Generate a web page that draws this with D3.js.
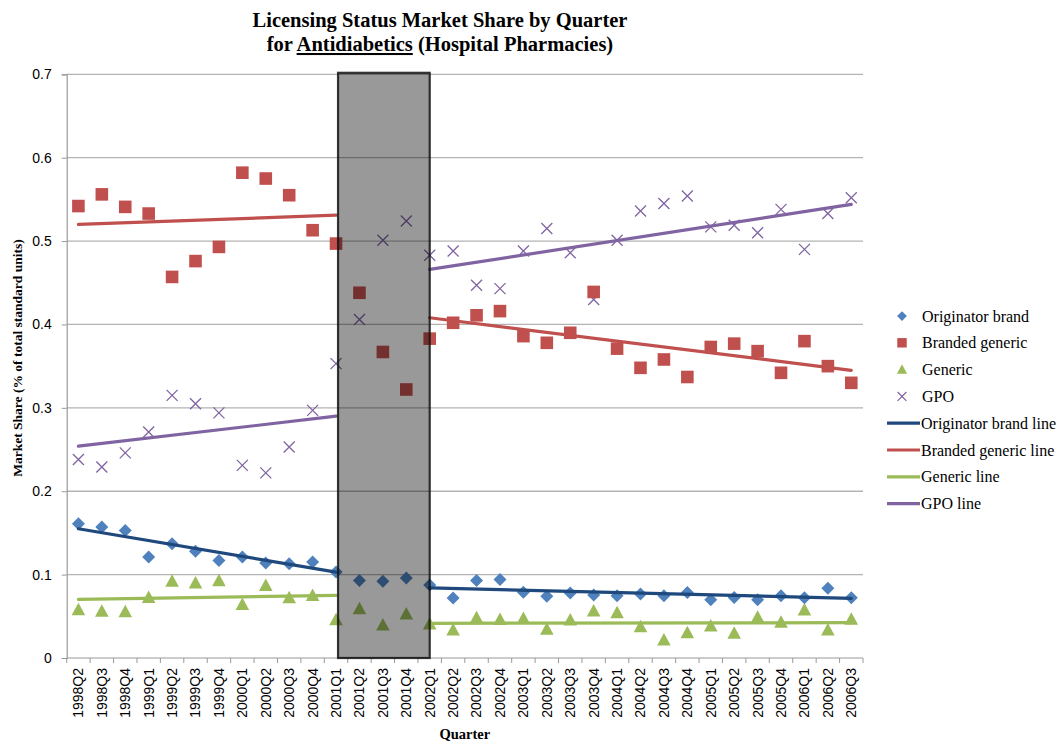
<!DOCTYPE html>
<html><head><meta charset="utf-8">
<script src="https://cdn.jsdelivr.net/npm/d3@7"></script>
<style>body{margin:0;background:#fff}svg{display:block}</style>
</head><body>
<svg id="c" width="1057" height="744"></svg>
<script>
const quarters = ["1998Q2","1998Q3","1998Q4","1999Q1","1999Q2","1999Q3","1999Q4","2000Q1","2000Q2","2000Q3","2000Q4","2001Q1","2001Q2","2001Q3","2001Q4","2002Q1","2002Q2","2002Q3","2002Q4","2003Q1","2003Q2","2003Q3","2003Q4","2004Q1","2004Q2","2004Q3","2004Q4","2005Q1","2005Q2","2005Q3","2005Q4","2006Q1","2006Q2","2006Q3"];
const originator = [0.161,0.157,0.153,0.121,0.137,0.128,0.117,0.121,0.114,0.113,0.115,0.103,0.093,0.092,0.096,0.0875,0.072,0.093,0.094,0.079,0.074,0.078,0.0755,0.0747,0.0767,0.0747,0.0787,0.070,0.0727,0.070,0.0747,0.0723,0.0835,0.0723];
const brandedGeneric = [0.542,0.556,0.541,0.533,0.457,0.476,0.493,0.582,0.575,0.555,0.513,0.497,0.438,0.367,0.322,0.383,0.402,0.411,0.416,0.386,0.378,0.390,0.439,0.371,0.348,0.358,0.337,0.373,0.377,0.368,0.342,0.380,0.350,0.330];
const generic = [0.058,0.056,0.0555,0.0727,0.092,0.090,0.0927,0.0643,0.087,0.0723,0.075,0.046,0.059,0.0396,0.0527,0.0408,0.0336,0.0483,0.0463,0.0475,0.0344,0.0455,0.0563,0.0543,0.0375,0.0216,0.0303,0.0384,0.0296,0.0488,0.0428,0.0575,0.0336,0.0464];
const gpo = [0.238,0.229,0.246,0.271,0.315,0.305,0.294,0.231,0.222,0.253,0.297,0.353,0.406,0.501,0.524,0.483,0.488,0.447,0.443,0.488,0.515,0.486,0.430,0.501,0.536,0.545,0.554,0.517,0.519,0.510,0.538,0.490,0.533,0.552];
// trend line segments: [startQuarter, endQuarter, startValue, endValue]
const originatorLine = [["1998Q2","2001Q1",0.155,0.103],["2002Q1","2006Q3",0.084,0.0716]];
const brandedGenericLine = [["1998Q2","2001Q1",0.520,0.531],["2002Q1","2006Q3",0.408,0.345]];
const genericLine = [["1998Q2","2001Q1",0.0703,0.075],["2002Q1","2006Q3",0.0416,0.0424]];
const gpoLine = [["1998Q2","2001Q1",0.254,0.290],["2002Q1","2006Q3",0.466,0.544]];
const shadedPeriod = ["2001Q1","2002Q1"];
const yTicks = [0,0.1,0.2,0.3,0.4,0.5,0.6,0.7];

const svg = d3.select("#c");
const L = 66.7, R = 863, T = 74.3, B = 658;
const x = d3.scaleBand().domain(quarters).range([L, R]).paddingInner(0).paddingOuter(0);
const cx = q => x(q) + x.bandwidth()/2;
const y = d3.scaleLinear().domain([0,0.7]).range([B, T]);

// gridlines
svg.append("g").selectAll("line").data(yTicks.filter(d=>d>0)).join("line")
  .attr("x1", L).attr("x2", R).attr("y1", d=>y(d)).attr("y2", d=>y(d))
  .attr("stroke", "#b3b3b3").attr("stroke-width", 1.3);

// y axis
const yAxis = d3.axisLeft(y).tickValues(yTicks).tickSize(5).tickFormat(d => d===0 ? "0" : d3.format(".1f")(d));
const gy = svg.append("g").attr("transform", `translate(${L},0)`).call(yAxis);
gy.select(".domain").attr("stroke", "#999").attr("stroke-width", 1.2);
gy.selectAll(".tick line").attr("stroke", "#999");
gy.selectAll("text").attr("font-family", "Liberation Sans, Arial, sans-serif").attr("font-size", 14).attr("fill", "#000").attr("dx", -7);

// x axis
const gx = svg.append("g").attr("transform", `translate(0,${B})`);
gx.append("line").attr("x1", L).attr("x2", R).attr("y1", 0).attr("y2", 0).attr("stroke", "#999").attr("stroke-width", 1.2);
const bounds = quarters.map(q => x(q)).concat([R]);
gx.selectAll("line.tk").data(bounds).join("line").attr("class","tk")
  .attr("x1", d=>d).attr("x2", d=>d).attr("y1", 0).attr("y2", 5).attr("stroke", "#999");
gx.selectAll("text").data(quarters).join("text")
  .attr("transform", d => `translate(${cx(d)},10) rotate(-90)`)
  .attr("text-anchor", "end").attr("dy", "0.35em")
  .attr("font-family", "Liberation Sans, Arial, sans-serif").attr("font-size", 14).attr("fill", "#000")
  .text(d => d);

// markers
const sz = 6.5;
const shapes = {
  diamond: `M0,${-sz}L${sz},0L0,${sz}L${-sz},0Z`,
  square: `M${-6.3},${-6.3}H6.3V6.3H-6.3Z`,
  triangle: `M0,-7L6.8,5.5H-6.8Z`,
  cross: `M-5.5,-5.5L5.5,5.5M5.5,-5.5L-5.5,5.5`
};
function drawPoints(data, shape, fill, stroke) {
  svg.append("g").selectAll("path").data(data).join("path")
    .attr("transform", (d,i) => `translate(${cx(quarters[i])},${y(d)})`)
    .attr("d", shapes[shape])
    .attr("fill", fill).attr("stroke", stroke).attr("stroke-width", stroke==="none"?0:1.3);
}
drawPoints(gpo, "cross", "none", "#8064a2");
drawPoints(brandedGeneric, "square", "#c0504d", "none");
drawPoints(generic, "triangle", "#9bbb59", "none");
drawPoints(originator, "diamond", "#4f81bd", "none");

// trend lines
function drawLine(segs, color) {
  svg.append("g").selectAll("line").data(segs).join("line")
    .attr("x1", d=>cx(d[0])).attr("x2", d=>cx(d[1]))
    .attr("y1", d=>y(d[2])).attr("y2", d=>y(d[3]))
    .attr("stroke", color).attr("stroke-width", 3.2).attr("stroke-linecap","round");
}
drawLine(originatorLine, "#1f497d");
drawLine(brandedGenericLine, "#c0504d");
drawLine(genericLine, "#9bbb59");
drawLine(gpoLine, "#8064a2");

// shaded period
svg.append("rect")
  .attr("x", cx(shadedPeriod[0])+2).attr("width", cx(shadedPeriod[1]) - cx(shadedPeriod[0]) - 2)
  .attr("y", y(0.7)-1.5).attr("height", y(0) - y(0.7) + 1.5)
  .attr("fill", "rgba(0,0,0,0.4)").attr("stroke", "rgba(20,20,20,0.85)").attr("stroke-width", 2.2);

// title
const serif = "Liberation Serif, Times New Roman, serif";
const title = svg.append("text").attr("x", 440).attr("text-anchor", "middle")
  .attr("font-family", serif).attr("font-weight", "bold").attr("font-size", 20.5);
title.append("tspan").attr("x", 440).attr("y", 27).text("Licensing Status Market Share by Quarter");
const t2 = title.append("tspan").attr("x", 440).attr("y", 51);
t2.append("tspan").text("for ");
t2.append("tspan").attr("text-decoration", "underline").text("Antidiabetics");
t2.append("tspan").text(" (Hospital Pharmacies)");

// axis titles
svg.append("text").attr("transform", `translate(22,358) rotate(-90)`)
  .attr("text-anchor", "middle").attr("font-family", serif).attr("font-weight", "bold").attr("font-size", 13.5)
  .text("Market Share (% of total standard units)");
svg.append("text").attr("x", (L+R)/2).attr("y", 739).attr("text-anchor", "middle")
  .attr("font-family", serif).attr("font-weight", "bold").attr("font-size", 14.5)
  .text("Quarter");

// legend
const legendItems = [
  {label:"Originator brand", type:"diamond", color:"#4f81bd"},
  {label:"Branded generic", type:"square", color:"#c0504d"},
  {label:"Generic", type:"triangle", color:"#9bbb59"},
  {label:"GPO", type:"cross", color:"#8064a2"},
  {label:"Originator brand line", type:"line", color:"#1f497d"},
  {label:"Branded generic line", type:"line", color:"#c0504d"},
  {label:"Generic line", type:"line", color:"#9bbb59"},
  {label:"GPO line", type:"line", color:"#8064a2"}
];
const lg = svg.append("g");
legendItems.forEach((d,i) => {
  const yy = 316 + i*26.8;
  if (d.type === "line") {
    lg.append("line").attr("x1", 887).attr("x2", 920).attr("y1", yy).attr("y2", yy)
      .attr("stroke", d.color).attr("stroke-width", 3.2);
  } else {
    const sc = d.type === "cross" ? 0.8 : 0.75;
    lg.append("path").attr("transform", `translate(902,${yy}) scale(${sc})`).attr("d", shapes[d.type])
      .attr("fill", d.type==="cross" ? "none" : d.color)
      .attr("stroke", d.type==="cross" ? d.color : "none").attr("stroke-width", 1.5);
  }
  lg.append("text").attr("x", d.type==="line" ? 921 : 922).attr("y", yy).attr("dy", "0.35em")
    .attr("font-family", serif).attr("font-size", 16).attr("fill", "#000").text(d.label);
});
</script>
</body></html>
